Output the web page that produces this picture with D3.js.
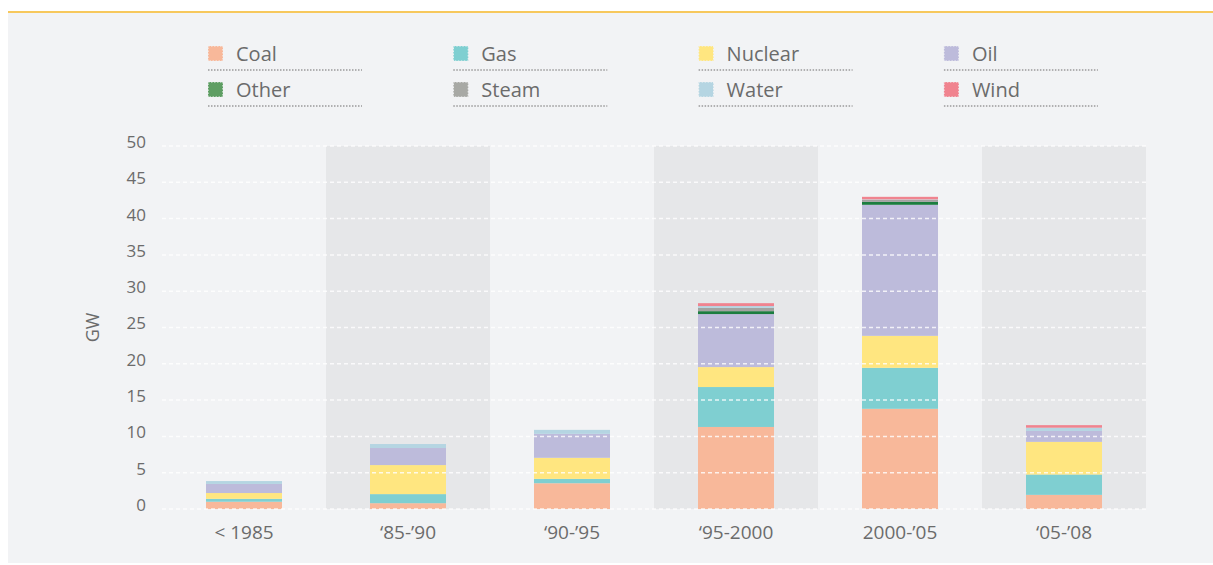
<!DOCTYPE html>
<html>
<head>
<meta charset="utf-8">
<script src="https://cdn.jsdelivr.net/npm/d3@7"></script>
<style>
  body { margin: 0; background: #fff; font-family: "Open Sans", "Noto Sans", sans-serif; }
</style>
</head>
<body>
<script>
  // periods on the x axis
  var periods = ["< 1985", "\u201885-\u201990", "\u201890-\u201995", "\u201895-2000", "2000-\u201905", "\u201805-\u201908"];
  var fuels = ["Coal", "Gas", "Nuclear", "Oil", "Other", "Steam", "Water", "Wind"];
  var colors = ["#f8b89a", "#7fcfd1", "#ffe680", "#bdbbdb", "#1b7d3f", "#a2a3a0", "#b5d5e2", "#f0838f"];
  var legendColors = ["#f8b89a", "#7fcfd1", "#ffe680", "#bdbbdb", "#5e9e63", "#a8a9a5", "#b5d5e2", "#f0838f"];

  // GW added per period, one array per fuel
  var coal    = [1.0, 0.8, 3.55, 11.3, 13.8, 1.95];
  var gas     = [0.4, 1.25, 0.6, 5.5, 5.65, 2.8];
  var nuclear = [0.8, 4.0, 2.9, 2.75, 4.4, 4.5];
  var oil     = [1.25, 2.35, 3.3, 7.3, 18.05, 1.5];
  var other   = [0, 0, 0, 0.4, 0.4, 0];
  var steam   = [0, 0, 0, 0.45, 0.3, 0];
  var water   = [0.4, 0.55, 0.55, 0.25, 0.05, 0.45];
  var wind    = [0, 0, 0, 0.4, 0.35, 0.35];
  var yTicks = [0, 5, 10, 15, 20, 25, 30, 35, 40, 45, 50];

  var series = [coal, gas, nuclear, oil, other, steam, water, wind];

  var W = 1213, H = 565;
  var svg = d3.select("body").append("svg")
    .attr("width", W).attr("height", H);

  // panel
  svg.append("rect").attr("x", 8).attr("y", 12).attr("width", W - 8).attr("height", 551)
    .attr("fill", "#f2f3f5");
  svg.append("line").attr("x1", 8).attr("x2", W).attr("y1", 12).attr("y2", 12)
    .attr("stroke", "#f7c85c").attr("stroke-width", 2);

  var plotL = 162, plotR = 1146, plotT = 146, plotB = 509;

  var x = d3.scaleBand().domain(periods).range([plotL, plotR]).paddingInner(0).paddingOuter(0);
  var y = d3.scaleLinear().domain([0, 50]).range([plotB, plotT]);

  // alternate shaded bands
  svg.selectAll("rect.band")
    .data(periods.filter(function(d, i) { return i % 2 == 1; }))
    .enter().append("rect")
    .attr("class", "band")
    .attr("x", function(d) { return x(d); })
    .attr("y", y(50))
    .attr("width", x.bandwidth())
    .attr("height", y(0) - y(50))
    .attr("fill", "#e6e7e9");

  // stacked bars
  var rows = periods.map(function(p, i) {
    var r = { period: p };
    fuels.forEach(function(f, j) { r[f] = series[j][i]; });
    return r;
  });
  var stack = d3.stack().keys(fuels)(rows);
  var barW = 76;

  svg.selectAll("g.layer")
    .data(stack)
    .enter().append("g")
    .attr("class", "layer")
    .attr("fill", function(d, i) { return colors[i]; })
    .selectAll("rect")
    .data(function(d) { return d; })
    .enter().append("rect")
    .attr("x", function(d) { return x(d.data.period) + (x.bandwidth() - barW) / 2; })
    .attr("y", function(d) { return y(d[1]); })
    .attr("width", barW)
    .attr("height", function(d) { return y(d[0]) - y(d[1]); });

  // dashed gridlines over everything
  svg.selectAll("line.grid")
    .data(yTicks)
    .enter().append("line")
    .attr("class", "grid")
    .attr("x1", plotL).attr("x2", plotR)
    .attr("y1", function(d) { return y(d); })
    .attr("y2", function(d) { return y(d); })
    .attr("stroke", "#fff")
    .attr("stroke-opacity", 0.8)
    .attr("stroke-width", 1.5)
    .attr("stroke-dasharray", "4,3");

  // y axis labels
  var yAxis = svg.append("g")
    .attr("transform", "translate(146,-4)")
    .call(d3.axisLeft(y).tickValues(yTicks).tickSize(0).tickPadding(0));
  yAxis.select(".domain").remove();
  yAxis.selectAll("text")
    .attr("font-family", "Open Sans, Noto Sans, sans-serif")
    .attr("font-size", 17).attr("fill", "#6b6b6b");

  svg.append("text")
    .attr("transform", "translate(99," + y(25) + ") rotate(-90)")
    .attr("text-anchor", "middle")
    .attr("font-size", 18).attr("fill", "#6b6b6b")
    .text("GW");

  // x axis labels
  var xAxis = svg.append("g")
    .attr("transform", "translate(0," + (plotB + 10) + ")")
    .call(d3.axisBottom(x).tickSize(0).tickPadding(6));
  xAxis.select(".domain").remove();
  xAxis.selectAll("text")
    .attr("font-family", "Open Sans, Noto Sans, sans-serif")
    .attr("font-size", 19).attr("fill", "#6b6b6b");

  // legend
  var legend = svg.selectAll("g.legend")
    .data(fuels)
    .enter().append("g")
    .attr("class", "legend")
    .attr("transform", function(d, i) {
      return "translate(" + (208 + (i % 4) * 245.3) + "," + (46 + Math.floor(i / 4) * 36) + ")";
    });
  legend.append("rect")
    .attr("width", 15).attr("height", 15)
    .attr("fill", function(d, i) { return legendColors[i]; });
  legend.append("rect")
    .attr("width", 15).attr("height", 15)
    .attr("fill", "none")
    .attr("stroke", "#f2f3f5").attr("stroke-width", 1.2)
    .attr("stroke-dasharray", "1.5,1.5");
  legend.append("text")
    .attr("x", 28).attr("y", 15)
    .attr("font-size", 20).attr("fill", "#6b6b6b")
    .text(function(d) { return d; });
  legend.append("line")
    .attr("x1", 0).attr("x2", 154)
    .attr("y1", 24).attr("y2", 24)
    .attr("stroke", "#9a9a9a").attr("stroke-width", 1.3)
    .attr("stroke-dasharray", "1.5,1.5");
</script>
</body>
</html>
